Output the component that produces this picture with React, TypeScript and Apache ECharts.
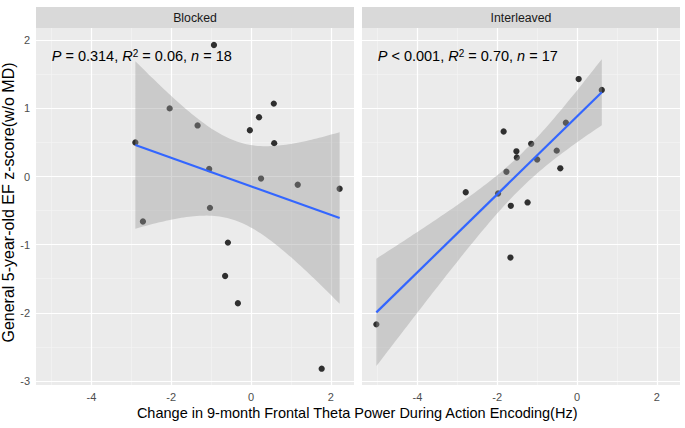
import React, { useEffect, useRef } from "react";
import * as echarts from "echarts";

const panels = ["Blocked", "Interleaved"];
const blockedX = [-2.9, -2.04, -1.34, -0.93, -1.05, -0.03, 0.2, 0.57, 0.58, 0.25, 1.17, 2.22, -2.71, -1.03, -0.58, -0.65, -0.33, 1.77];
const blockedY = [0.5, 1.0, 0.75, 1.93, 0.11, 0.68, 0.87, 1.07, 0.49, -0.03, -0.12, -0.18, -0.66, -0.46, -0.97, -1.46, -1.86, -2.82];
const interleavedX = [0.04, 0.62, -0.28, -1.84, -1.15, -0.51, -1.52, -1.51, -1.0, -1.77, -0.42, -2.79, -1.98, -1.66, -1.24, -1.67, -5.03];
const interleavedY = [1.43, 1.27, 0.79, 0.66, 0.48, 0.38, 0.37, 0.28, 0.25, 0.07, 0.12, -0.23, -0.25, -0.43, -0.38, -1.19, -2.17];
const tCrit = [2.1199, 2.1314]; // 97.5% t quantiles, df = n - 2
const xTicks = [-4, -2, 0, 2];
const xMinor = [-5, -3, -1, 1];
const yTicks = [-3, -2, -1, 0, 1, 2];
const yMinor = [-2.5, -1.5, -0.5, 0.5, 1.5];
const statsText = [
  "{i|P} = 0.314, {i|R}{sup|2} = 0.06, {i|n} = 18",
  "{i|P} < 0.001, {i|R}{sup|2} = 0.70, {i|n} = 17",
];
const xTitle = "Change in 9-month Frontal Theta Power During Action Encoding(Hz)";
const yTitle = "General 5-year-old EF z-score(w/o MD)";

const FONT = "'Liberation Sans', Arial, Helvetica, sans-serif";

function fit(xs: number[], ys: number[], t: number) {
  const n = xs.length;
  const mx = xs.reduce((a, b) => a + b, 0) / n;
  const my = ys.reduce((a, b) => a + b, 0) / n;
  let sxx = 0, sxy = 0;
  for (let i = 0; i < n; i++) {
    sxx += (xs[i] - mx) ** 2;
    sxy += (xs[i] - mx) * (ys[i] - my);
  }
  const b = sxy / sxx;
  const a = my - b * mx;
  let sse = 0;
  for (let i = 0; i < n; i++) sse += (ys[i] - a - b * xs[i]) ** 2;
  const s = Math.sqrt(sse / (n - 2));
  const lo = Math.min(...xs), hi = Math.max(...xs);
  const band: number[][] = [];
  const steps = 80;
  for (let k = 0; k <= steps; k++) {
    const x = lo + ((hi - lo) * k) / steps;
    const yh = a + b * x;
    const se = s * Math.sqrt(1 / n + (x - mx) ** 2 / sxx);
    band.push([x, yh - t * se, yh + t * se]);
  }
  return { line: [[lo, a + b * lo], [hi, a + b * hi]], band };
}

export default function App() {
  const ref = useRef<HTMLDivElement>(null);
  useEffect(() => {
    const chart = echarts.init(ref.current!, null, { renderer: "svg" });
    const groups = [
      { xs: blockedX, ys: blockedY },
      { xs: interleavedX, ys: interleavedY },
    ];
    const gridLeft = [36, 362];
    const gridW = 318;
    const top = 28;
    const h = 357;
    const series: any[] = [];
    const graphic: any[] = [];
    groups.forEach((g, i) => {
      const f = fit(g.xs, g.ys, tCrit[i]);
      series.push({
        type: "line",
        xAxisIndex: i,
        yAxisIndex: i,
        data: [],
        z: 1,
        silent: true,
        markLine: {
          silent: true,
          symbol: "none",
          z: 1,
          label: { show: false },
          animation: false,
          data: [
            ...xMinor.map((v) => ({ xAxis: v, lineStyle: { color: "#F5F5F5", width: 0.6, type: "solid" } })),
            ...yMinor.map((v) => ({ yAxis: v, lineStyle: { color: "#F5F5F5", width: 0.6, type: "solid" } })),
            ...xTicks.map((v) => ({ xAxis: v, lineStyle: { color: "#FFFFFF", width: 1.2, type: "solid" } })),
            ...yTicks.map((v) => ({ yAxis: v, lineStyle: { color: "#FFFFFF", width: 1.2, type: "solid" } })),
          ],
        },
      });
      series.push({
        type: "scatter",
        xAxisIndex: i,
        yAxisIndex: i,
        data: g.xs.map((x, k) => [x, g.ys[k]]),
        symbolSize: 6.3,
        itemStyle: { color: "#000000" },
        z: 2,
        silent: true,
      });
      const band = f.band;
      series.push({
        type: "custom",
        xAxisIndex: i,
        yAxisIndex: i,
        data: band,
        z: 3,
        silent: true,
        encode: { x: 0, y: [1, 2] },
        renderItem: (params: any, api: any) => {
          if (params.dataIndex !== 0) return null;
          const pts: number[][] = [];
          band.forEach((b) => pts.push(api.coord([b[0], b[2]])));
          for (let k = band.length - 1; k >= 0; k--) pts.push(api.coord([band[k][0], band[k][1]]));
          return {
            type: "polygon",
            shape: { points: pts },
            style: { fill: "rgba(153,153,153,0.4)", stroke: "none" },
          };
        },
      });
      series.push({
        type: "line",
        xAxisIndex: i,
        yAxisIndex: i,
        data: f.line,
        showSymbol: false,
        lineStyle: { color: "#3366FF", width: 2.2 },
        z: 4,
        silent: true,
      });
      graphic.push({
        type: "rect",
        left: gridLeft[i],
        top: 7,
        shape: { width: gridW, height: 21 },
        style: { fill: "#D9D9D9" },
      });
      graphic.push({
        type: "text",
        x: gridLeft[i] + gridW / 2,
        y: 18,
        style: {
          text: panels[i],
          fill: "#1A1A1A",
          font: `12.3px ${FONT}`,
          textAlign: "center",
          textVerticalAlign: "middle",
        },
      });
      graphic.push({
        type: "text",
        x: gridLeft[i] + 15.7,
        y: 56,
        z: 10,
        style: {
          text: statsText[i],
          fill: "#000000",
          fontSize: 14.5,
          fontFamily: FONT,
          textVerticalAlign: "middle",
          rich: {
            i: { fontStyle: "italic", fontSize: 14.5, fontFamily: FONT, fill: "#000" },
            sup: { fontSize: 10, fontFamily: FONT, verticalAlign: "top", fill: "#000" },
          },
        },
      });
    });
    graphic.push({
      type: "text",
      x: 357.2,
      y: 413,
      style: {
        text: xTitle,
        fill: "#000",
        font: `14.5px ${FONT}`,
        textAlign: "center",
        textVerticalAlign: "middle",
      },
    });
    graphic.push({
      type: "text",
      x: 8,
      y: 202.5,
      rotation: Math.PI / 2,
      style: {
        text: yTitle,
        fill: "#000",
        font: `16px ${FONT}`,
        textAlign: "center",
        textVerticalAlign: "middle",
      },
    });

    const xAxis = [0, 1].map((i) => ({
      type: "value",
      gridIndex: i,
      min: -5.39,
      max: 2.58,
      axisLine: { show: false },
      axisTick: { show: true, customValues: xTicks, length: 3, lineStyle: { color: "#333333", width: 1 } },
      axisLabel: { customValues: xTicks, color: "#4D4D4D", fontSize: 11, fontFamily: FONT, margin: 6 },
      splitLine: { show: false },
    }));
    const yAxis = [0, 1].map((i) => ({
      type: "value",
      gridIndex: i,
      min: -3.06,
      max: 2.18,
      axisLine: { show: false },
      axisTick: { show: i === 0, customValues: yTicks, length: 3, lineStyle: { color: "#333333", width: 1 } },
      axisLabel: { show: i === 0, customValues: yTicks, color: "#4D4D4D", fontSize: 11, fontFamily: FONT, margin: 6 },
      splitLine: { show: false },
    }));

    chart.setOption({
      animation: false,
      backgroundColor: "#FFFFFF",
      grid: [0, 1].map((i) => ({
        left: gridLeft[i],
        top,
        width: gridW,
        height: h,
        show: true,
        backgroundColor: "#EBEBEB",
        borderWidth: 0,
      })),
      xAxis,
      yAxis,
      series,
      graphic,
    });
    return () => chart.dispose();
  }, []);
  return <div ref={ref} style={{ position: "absolute", left: 0, top: 0, width: 685, height: 428 }} />;
}
